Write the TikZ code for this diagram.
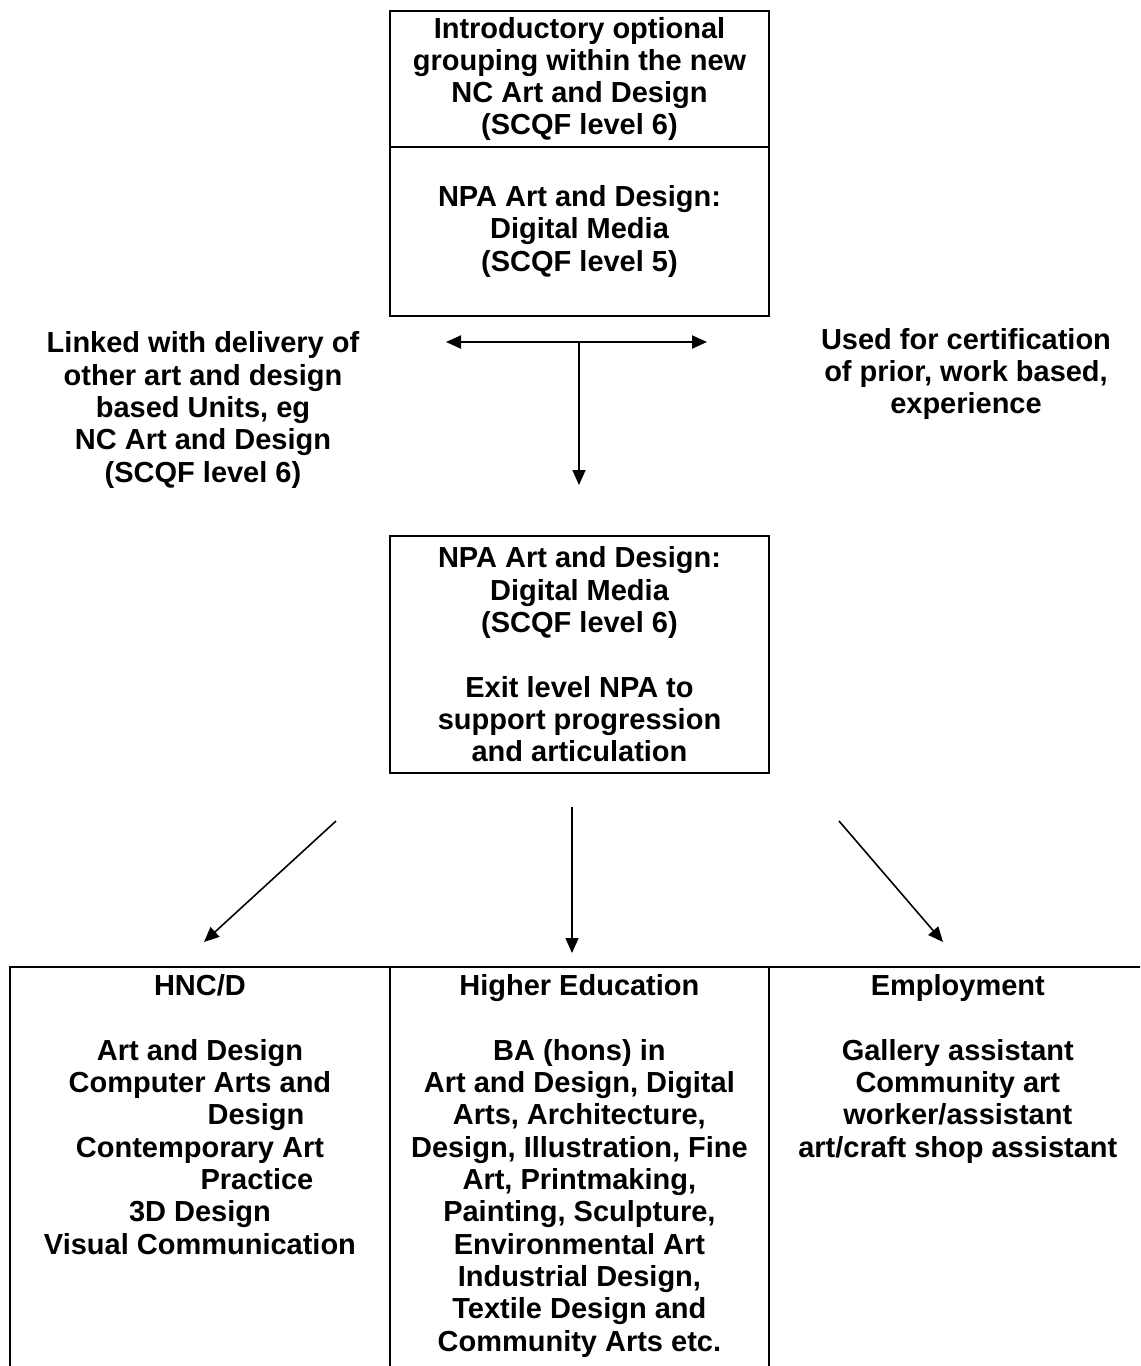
\documentclass[tikz,border=0pt]{standalone}
\usepackage{fontspec}
\setmainfont{Liberation Sans}
\usetikzlibrary{arrows.meta,positioning}

\begin{document}
\begin{tikzpicture}[x=0.02cm,y=-0.02cm,
        >={Triangle[length=0.3cm,width=0.26cm]},
        every node/.style={font=\fontsize{16.5}{18.4}\selectfont\bfseries,align=center},
        box/.style={draw,line width=1.1pt,minimum width=7.58cm,inner sep=0pt,outer sep=0pt},
        cell/.style={draw,line width=1.1pt,anchor=north west,inner xsep=0pt,inner ysep=0.15cm,outer sep=0pt,text depth=9cm},
        arr/.style={line width=0.9pt,->}]
        \useasboundingbox (0,0) rectangle (1140,1366);
        \clip (0,0) rectangle (1140,1366);
        \node[box,minimum height=2.72cm] (intro) at (579.5,79) {Introductory optional\\grouping within the new\\NC Art and Design\\(SCQF level 6)};
        \node[box,minimum height=3.38cm,below=0pt of intro] (npa5) {NPA Art and Design:\\Digital Media\\(SCQF level 5)};
        \node (linked) at (203,410) {Linked with delivery of\\other art and design\\based Units, eg\\NC Art and Design\\(SCQF level 6)};
        \node (certif) at (966,374) {Used for certification\\of prior, work based,\\experience};
        \node[box,minimum height=4.74cm] (npa6) at (579.5,654.5) {NPA Art and Design:\\Digital Media\\(SCQF level 6)\\[18.4pt]Exit level NPA to\\support progression\\and articulation};
        \coordinate (teeL) at (446,342);
        \coordinate (teeR) at (707,342);
        \coordinate (teeM) at (579,342);
        \coordinate (teeD) at (579,485);
        \draw[arr,<->,line width=1.1pt] (teeL) -- (teeR);
        \draw[arr] (teeM) -- (teeD);
        \coordinate (fromL) at (336,821);
        \coordinate (toL) at (204,942);
        \coordinate (fromM) at (572,807);
        \coordinate (toM) at (572,953);
        \coordinate (fromR) at (839,821);
        \coordinate (toR) at (943,942);
        \foreach \s in {L,M,R}{
            \draw[arr] (from\s) -- (to\s);
        }
        \node[cell,minimum width=7.6cm] (hnc) at (10,967) {HNC/D\\[18.4pt]Art and Design\\Computer Arts and\\\hspace*{2.24cm}Design\\Contemporary Art\\\hspace*{2.28cm}Practice\\3D Design\\Visual Communication};
        \node[cell,minimum width=7.58cm] (higher) at (hnc.north east) {Higher Education\\[18.4pt]BA (hons) in\\Art and Design, Digital\\Arts, Architecture,\\Design, Illustration, Fine\\Art, Printmaking,\\Painting, Sculpture,\\Environmental Art\\Industrial Design,\\Textile Design and\\Community Arts etc.};
        \node[cell,minimum width=7.56cm] (employ) at (higher.north east) {Employment\\[18.4pt]Gallery assistant\\Community art\\worker/assistant\\art/craft shop assistant};
    \end{tikzpicture}
\end{document}
